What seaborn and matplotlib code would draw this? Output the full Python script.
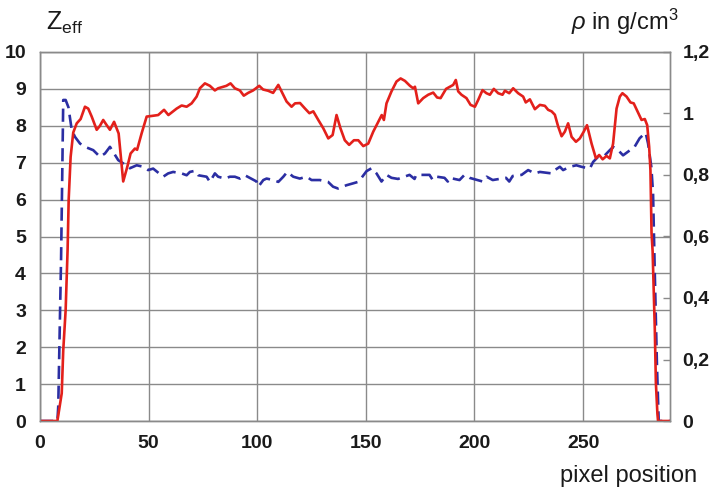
import numpy as np
import pandas as pd
import matplotlib
matplotlib.use('Agg')
import matplotlib.pyplot as plt
import seaborn as sns

# Zeff profile (left axis)
z_pos = [0, 8.0, 8.4, 9.7, 10.2, 10.7, 11.8, 13.1, 14.6, 16.1, 18.4, 20.7, 24.5, 27.6,
         29.9, 32.2, 36.0, 38.3, 41.4, 44.5, 47.6, 49.8, 52.1, 56.7, 59.0, 61.3, 65.2,
         67.5, 69.0, 71.3, 72.8, 76.7, 78.2, 80.5, 82.0, 85.1, 87.4, 89.7, 92.0, 94.3,
         99.7, 100.5, 102.8, 104.3, 107.4, 109.7, 112.0, 113.8, 116.6, 119.6, 122.7,
         125.0, 128.8, 132.6, 134.9, 137.2, 141.1, 144.1, 146.4, 148.0, 150.3, 152.6,
         154.9, 157.2, 159.5, 161.8, 164.8, 170.1, 172.4, 173.2, 179.3, 180.8, 182.7,
         186.2, 187.7, 188.5, 193.1, 195.4, 197.7, 203.8, 205.6, 208.4, 214.5, 216.0,
         217.6, 221.7, 224.7, 227.8, 230.1, 235.5, 237.0, 239.3, 240.8, 243.9, 246.9,
         249.2, 253.1, 254.6, 256.9, 260.0, 262.3, 263.8, 266.1, 268.4, 273.7, 276.0,
         277.6, 278.8, 279.9, 281.4, 282.2, 283.0, 284.0, 284.8, 290]
z_eff = [0, 0, 0.39, 4.4, 6.5, 8.7, 8.7, 8.5, 7.89, 7.7, 7.52, 7.43, 7.34, 7.16,
         7.25, 7.43, 7.07, 6.98, 6.85, 6.93, 6.89, 6.80, 6.84, 6.62, 6.71, 6.75, 6.71,
         6.66, 6.75, 6.78, 6.66, 6.62, 6.48, 6.71, 6.62, 6.57, 6.62, 6.62, 6.57, 6.66,
         6.49, 6.35, 6.53, 6.57, 6.53, 6.48, 6.62, 6.75, 6.62, 6.57, 6.62,
         6.53, 6.53, 6.48, 6.35, 6.30, 6.39, 6.44, 6.48, 6.59, 6.77, 6.85,
         6.71, 6.49, 6.67, 6.59, 6.56, 6.67, 6.56, 6.67, 6.67, 6.53, 6.62,
         6.59, 6.49, 6.59, 6.53, 6.67, 6.59, 6.49, 6.62, 6.53, 6.59, 6.49,
         6.64, 6.67, 6.80, 6.71, 6.75, 6.71, 6.80, 6.89, 6.80, 6.89, 6.93,
         6.89, 6.84, 7.02, 7.16, 7.20, 7.34, 7.43, 7.34, 7.20, 7.43, 7.66,
         7.75, 7.81, 7.52, 6.89, 6.17, 4.0, 1.5, 0, 0]

# density profile (right axis, g/cm3)
rho_pos = [0, 8.0, 10.0, 10.7, 11.8, 12.7, 13.2, 14.1, 15.3, 16.9, 18.7, 20.7, 22.2,
           23.8, 26.1, 27.6, 29.1, 30.7, 32.2, 34.1, 36.2, 38.3, 40.2, 41.7, 43.7,
           44.7, 46.8, 49.1, 51.4, 54.4, 57.1, 59.1, 62.9, 65.2, 67.5, 69.8, 72.1,
           73.6, 75.9, 78.2, 80.5, 82.0, 84.3, 85.8, 87.7, 89.7, 92.0, 93.8, 95.8,
           98.1, 100.9, 102.7, 105.0, 107.3, 109.7, 111.2, 113.5, 115.8, 117.4, 119.7,
           122.0, 124.0, 125.8, 128.1, 130.4, 132.7, 134.7, 136.5, 138.3, 140.3, 142.3,
           144.5, 146.5, 148.8, 151.1, 153.4, 155.7, 157.3, 158.3, 159.5, 161.8, 164.1,
           166.0, 168.0, 170.3, 171.8, 172.6, 174.1, 176.4, 178.7, 181.0, 182.8, 184.4,
           186.9, 188.7, 190.2, 191.4, 192.5, 194.0, 196.3, 198.2, 200.2, 201.7, 203.7,
           205.5, 207.1, 208.9, 210.9, 212.9, 214.0, 216.0, 217.8, 220.1, 222.4, 223.6,
           225.5, 227.8, 230.1, 232.4, 233.9, 235.5, 237.0, 238.5, 240.1, 241.6, 243.1,
           244.7, 246.7, 248.5, 250.3, 251.8, 253.9, 255.9, 257.4, 259.0, 260.8, 262.3,
           263.8, 265.4, 266.9, 268.1, 270.0, 271.8, 273.3, 275.3, 276.9, 278.4, 279.5,
           280.4, 281.0, 281.5, 282.0, 283.0, 283.5, 284.2, 284.5, 290]
rho_val = [0, 0, 0.090, 0.230, 0.360, 0.556, 0.720, 0.859, 0.938, 0.968, 0.982, 1.022, 1.016,
           0.990, 0.947, 0.960, 0.979, 0.962, 0.947, 0.973, 0.935, 0.779, 0.827, 0.870, 0.886,
           0.882, 0.936, 0.990, 0.992, 0.995, 1.012, 0.995, 1.016, 1.026, 1.022, 1.033, 1.055,
           1.082, 1.098, 1.090, 1.075, 1.082, 1.087, 1.090, 1.098, 1.082, 1.075, 1.058, 1.067,
           1.075, 1.090, 1.078, 1.074, 1.067, 1.093, 1.072, 1.039, 1.022, 1.033, 1.034,
           1.016, 1.001, 1.007, 0.979, 0.952, 0.919, 0.930, 0.995, 0.952, 0.913, 0.898,
           0.913, 0.913, 0.894, 0.902, 0.941, 0.973, 0.995, 0.979, 1.033, 1.072, 1.104,
           1.114, 1.106, 1.090, 1.082, 1.087, 1.033, 1.050, 1.061, 1.068, 1.052, 1.050,
           1.080, 1.087, 1.093, 1.109, 1.072, 1.061, 1.050, 1.028, 1.022, 1.044, 1.076,
           1.066, 1.061, 1.080, 1.066, 1.061, 1.074, 1.066, 1.082, 1.066, 1.055, 1.036,
           1.046, 1.014, 1.028, 1.025, 1.012, 1.007, 0.996, 0.958, 0.926, 0.941, 0.968,
           0.924, 0.908, 0.919, 0.941, 0.962, 0.902, 0.854, 0.865, 0.851, 0.862, 0.854,
           0.902, 1.016, 1.055, 1.066, 1.055, 1.036, 1.033, 1.003, 0.979, 0.982, 0.962,
           0.892, 0.815, 0.612, 0.552, 0.300, 0.124, 0.024, 0, 0]

x_ticks = [0, 50, 100, 150, 200, 250]
z_ticks = list(range(0, 11))
rho_ticks = [0, 0.2, 0.4, 0.6, 0.8, 1.0, 1.2]
rho_labels = ['0', '0,2', '0,4', '0,6', '0,8', '1', '1,2']

df_z = pd.DataFrame({'pos': z_pos, 'zeff': z_eff})
df_rho = pd.DataFrame({'pos': rho_pos, 'rho': rho_val})

grid_col = '#8a8a8a'
sns.set_style('whitegrid', {'grid.color': grid_col, 'axes.edgecolor': grid_col})
plt.rcParams['font.family'] = ['Liberation Sans', 'DejaVu Sans']
plt.rcParams['mathtext.fontset'] = 'custom'
plt.rcParams['mathtext.rm'] = 'Liberation Sans'
plt.rcParams['mathtext.it'] = 'Liberation Sans:italic'
plt.rcParams['mathtext.bf'] = 'Liberation Sans:bold'

fig = plt.figure(figsize=(7.14, 4.92), dpi=100)
ax = fig.add_axes([40 / 714, 71 / 492, 630 / 714, 369 / 492])

sns.lineplot(data=df_z, x='pos', y='zeff', ax=ax, color='#2b2ea3', lw=1.9,
             linestyle=(0, (5, 2.5)))
ax.set_xlim(0, 290)
ax.set_ylim(0, 10)
ax.set_xticks(x_ticks)
ax.set_yticks(z_ticks)
ax.set_xlabel('')
ax.set_ylabel('')
ax.grid(True, color=grid_col, lw=1)
ax.tick_params(length=0, pad=10, labelsize=14, labelcolor='#1a1a1a')

ax2 = ax.twinx()
sns.lineplot(data=df_rho, x='pos', y='rho', ax=ax2, color='#e3201b', lw=1.9)
ax2.set_ylim(0, 1.2)
ax2.set_yticks(rho_ticks)
ax2.set_yticklabels(rho_labels)
ax2.set_ylabel('')
ax2.grid(False)
ax2.tick_params(axis='y', direction='in', length=5, width=1, color=grid_col,
                pad=9, labelsize=14, labelcolor='#1a1a1a')

for a in (ax, ax2):
    for sp in a.spines.values():
        sp.set_color(grid_col)
        sp.set_linewidth(1)
    for lbl in a.get_xticklabels() + a.get_yticklabels():
        lbl.set_fontweight('bold')

fig.text(46 / 714, 1 - 30 / 492, r'$\mathrm{Z}_{\mathrm{eff}}$', fontsize=18,
         ha='left', va='baseline', color='#1a1a1a')
fig.text(678 / 714, 1 - 30 / 492, r'$\rho$ in g/cm$^3$', fontsize=17,
         ha='right', va='baseline', color='#1a1a1a')
fig.text(697 / 714, 1 - 482 / 492, 'pixel position', fontsize=17,
         ha='right', va='baseline', color='#1a1a1a')

fig.savefig('out.png', dpi=100)
